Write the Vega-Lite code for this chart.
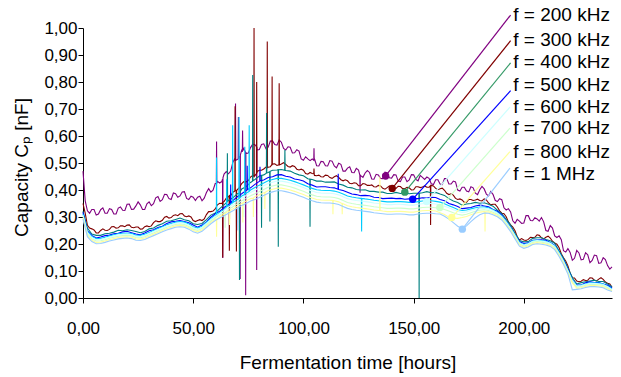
{
 "$schema": "https://vega.github.io/schema/vega-lite/v6.json",
 "width": 529, "height": 270,
 "autosize": "none",
 "padding": {"left": 83, "top": 28, "right": 9, "bottom": 79},
 "background": "white",
 "config": {"view": {"stroke": null}, "font": "Liberation Sans"},
 "resolve": {"scale": {"color": "independent"}},
 "layer": [
  {
   "data": {"values": [
{"t":0,"p":0.47,"r":0.35,"g":0.321,"b":0.317,"c":0.311,"w":0.307,"n":0.302,"y":0.297,"l":0.292},
{"t":1,"p":0.36,"r":0.314},
{"t":2,"p":0.323,"r":0.269,"g":0.259,"b":0.249,"c":0.246,"w":0.242,"n":0.237,"y":0.232,"l":0.227},
{"t":4,"p":0.328,"r":0.256,"g":0.237,"b":0.232,"c":0.228,"w":0.224,"n":0.219,"y":0.214,"l":0.209},
{"t":6,"p":0.307,"r":0.241,"g":0.232,"b":0.222,"c":0.22,"w":0.216,"n":0.211,"y":0.206,"l":0.201},
{"t":8,"p":0.327,"r":0.25,"g":0.232,"b":0.226,"c":0.221,"w":0.217,"n":0.212,"y":0.207,"l":0.202},
{"t":10,"p":0.314,"r":0.251,"g":0.238,"b":0.231,"c":0.225,"w":0.221,"n":0.216,"y":0.211,"l":0.206},
{"t":12,"p":0.331,"r":0.254,"g":0.24,"b":0.233,"c":0.23,"w":0.226,"n":0.221,"y":0.216,"l":0.211},
{"t":14,"p":0.311,"r":0.265,"g":0.244,"b":0.238,"c":0.234,"w":0.23,"n":0.225,"y":0.22,"l":0.215},
{"t":16,"p":0.333,"r":0.26,"g":0.251,"b":0.24,"c":0.238,"w":0.234,"n":0.229,"y":0.224,"l":0.219},
{"t":18,"p":0.325,"r":0.267,"g":0.249,"b":0.245,"c":0.24,"w":0.236,"n":0.231,"y":0.226,"l":0.221},
{"t":20,"p":0.347,"r":0.27,"g":0.253,"b":0.247,"c":0.241,"w":0.237,"n":0.232,"y":0.227,"l":0.222},
{"t":22,"p":0.328,"r":0.262,"g":0.25,"b":0.242,"c":0.239,"w":0.235,"n":0.23,"y":0.225,"l":0.22},
{"t":24,"p":0.341,"r":0.263,"g":0.246,"b":0.237,"c":0.233,"w":0.229,"n":0.224,"y":0.219,"l":0.214},
{"t":26,"p":0.345,"r":0.255,"g":0.242,"b":0.234,"c":0.232,"w":0.228,"n":0.223,"y":0.218,"l":0.213},
{"t":28,"p":0.328,"r":0.264,"g":0.246,"b":0.241,"c":0.236,"w":0.232,"n":0.227,"y":0.222,"l":0.217},
{"t":30,"p":0.356,"r":0.264,"g":0.256,"b":0.249,"c":0.243,"w":0.239,"n":0.234,"y":0.229,"l":0.224},
{"t":32,"p":0.349,"r":0.279,"g":0.259,"b":0.253,"c":0.25,"w":0.246,"n":0.241,"y":0.236,"l":0.231},
{"t":34,"p":0.376,"r":0.283,"g":0.269,"b":0.261,"c":0.257,"w":0.253,"n":0.248,"y":0.243,"l":0.238},
{"t":36,"p":0.364,"r":0.288,"g":0.275,"b":0.266,"c":0.264,"w":0.26,"n":0.255,"y":0.25,"l":0.245},
{"t":38,"p":0.383,"r":0.302,"g":0.284,"b":0.276,"c":0.271,"w":0.267,"n":0.262,"y":0.257,"l":0.252},
{"t":40,"p":0.365,"r":0.298,"g":0.286,"b":0.282,"c":0.276,"w":0.272,"n":0.267,"y":0.262,"l":0.257},
{"t":42,"p":0.386,"r":0.308,"g":0.291,"b":0.284,"c":0.281,"w":0.277,"n":0.272,"y":0.267,"l":0.262},
{"t":44,"p":0.378,"r":0.312,"g":0.296,"b":0.287,"c":0.283,"w":0.279,"n":0.274,"y":0.269,"l":0.264},
{"t":46,"p":0.394,"r":0.304,"g":0.29,"b":0.283,"c":0.281,"w":0.277,"n":0.272,"y":0.267,"l":0.262},
{"t":48,"p":0.365,"r":0.304,"g":0.286,"b":0.279,"c":0.274,"w":0.27,"n":0.265,"y":0.26,"l":0.255},
{"t":50,"p":0.373,"r":0.287,"g":0.275,"b":0.27,"c":0.264,"w":0.26,"n":0.255,"y":0.25,"l":0.245},
{"t":52,"p":0.373,"r":0.287,"g":0.272,"b":0.262,"c":0.259,"w":0.255,"n":0.25,"y":0.245,"l":0.24},
{"t":54,"p":0.36,"r":0.287,"g":0.276,"b":0.27,"c":0.266,"w":0.262,"n":0.257,"y":0.252,"l":0.247},
{"t":56,"p":0.391,"r":0.309,"g":0.29,"b":0.282,"c":0.28,"w":0.276,"n":0.271,"y":0.266,"l":0.261},
{"t":58,"p":0.392,"r":0.32,"g":0.307,"b":0.299,"c":0.294,"w":0.29,"n":0.285,"y":0.28,"l":0.275},
{"t":60,"p":0.424,"r":0.33,"g":0.315,"b":0.312,"c":0.306,"w":0.302,"n":0.297,"y":0.292,"l":0.287},
{"t":62,"p":0.426,"r":0.351,"g":0.331,"b":0.321,"c":0.317,"w":0.313,"n":0.307,"y":0.301,"l":0.296},
{"t":64,"p":0.459,"r":0.357,"g":0.345,"b":0.335,"c":0.329,"w":0.324,"n":0.317,"y":0.311,"l":0.305},
{"t":66,"p":0.46,"r":0.376,"g":0.361,"b":0.346,"c":0.342,"w":0.336,"n":0.328,"y":0.321,"l":0.314},
{"t":68,"p":0.503,"r":0.392,"g":0.371,"b":0.361,"c":0.353,"w":0.346,"n":0.338,"y":0.33,"l":0.323},
{"t":70,"p":0.513,"r":0.401,"g":0.386,"b":0.375,"c":0.365,"w":0.358,"n":0.349,"y":0.34,"l":0.333},
{"t":72,"p":0.547,"r":0.424,"g":0.404,"b":0.386,"c":0.378,"w":0.371,"n":0.36,"y":0.351,"l":0.343},
{"t":74,"p":0.535,"r":0.43,"g":0.412,"b":0.398,"c":0.388,"w":0.38,"n":0.369,"y":0.359,"l":0.35},
{"t":76,"p":0.557,"r":0.448,"g":0.428,"b":0.408,"c":0.4,"w":0.391,"n":0.379,"y":0.368,"l":0.359},
{"t":78,"p":0.568,"r":0.453,"g":0.439,"b":0.421,"c":0.409,"w":0.399,"n":0.386,"y":0.375,"l":0.365},
{"t":80,"p":0.55,"r":0.473,"g":0.452,"b":0.432,"c":0.418,"w":0.408,"n":0.394,"y":0.382,"l":0.372},
{"t":82,"p":0.571,"r":0.478,"g":0.456,"b":0.437,"c":0.426,"w":0.416,"n":0.402,"y":0.39,"l":0.38},
{"t":84,"p":0.559,"r":0.484,"g":0.465,"b":0.446,"c":0.434,"w":0.424,"n":0.41,"y":0.398,"l":0.388},
{"t":86,"p":0.582,"r":0.496,"g":0.473,"b":0.449,"c":0.439,"w":0.429,"n":0.415,"y":0.403,"l":0.393},
{"t":88,"p":0.566,"r":0.491,"g":0.474,"b":0.456,"c":0.443,"w":0.433,"n":0.419,"y":0.407,"l":0.397},
{"t":90,"p":0.577,"r":0.496,"g":0.476,"b":0.457,"c":0.443,"w":0.433,"n":0.419,"y":0.407,"l":0.397},
{"t":92,"p":0.548,"r":0.495,"g":0.472,"b":0.451,"c":0.44,"w":0.43,"n":0.416,"y":0.404,"l":0.394},
{"t":94,"p":0.558,"r":0.485,"g":0.47,"b":0.448,"c":0.436,"w":0.426,"n":0.412,"y":0.4,"l":0.39},
{"t":96,"p":0.538,"r":0.487,"g":0.462,"b":0.441,"c":0.431,"w":0.421,"n":0.407,"y":0.395,"l":0.385},
{"t":98,"p":0.544,"r":0.474,"g":0.456,"b":0.438,"c":0.425,"w":0.415,"n":0.401,"y":0.389,"l":0.379},
{"t":100,"p":0.51,"r":0.473,"g":0.453,"b":0.433,"c":0.419,"w":0.409,"n":0.395,"y":0.383,"l":0.373},
{"t":102,"p":0.515,"r":0.459,"g":0.442,"b":0.423,"c":0.412,"w":0.402,"n":0.388,"y":0.376,"l":0.366},
{"t":104,"p":0.515,"r":0.461,"g":0.439,"b":0.418,"c":0.406,"w":0.396,"n":0.382,"y":0.37,"l":0.36},
{"t":106,"p":0.49,"r":0.453,"g":0.433,"b":0.411,"c":0.401,"w":0.391,"n":0.377,"y":0.365,"l":0.355},
{"t":108,"p":0.506,"r":0.449,"g":0.433,"b":0.412,"c":0.399,"w":0.389,"n":0.375,"y":0.363,"l":0.353},
{"t":110,"p":0.49,"r":0.455,"g":0.429,"b":0.412,"c":0.398,"w":0.388,"n":0.374,"y":0.362,"l":0.352},
{"t":112,"p":0.509,"r":0.446,"g":0.429,"b":0.409,"c":0.398,"w":0.388,"n":0.374,"y":0.362,"l":0.352},
{"t":114,"p":0.489,"r":0.449,"g":0.43,"b":0.408,"c":0.396,"w":0.386,"n":0.372,"y":0.36,"l":0.35},
{"t":116,"p":0.499,"r":0.447,"g":0.422,"b":0.402,"c":0.392,"w":0.382,"n":0.368,"y":0.356,"l":0.346},
{"t":118,"p":0.47,"r":0.434,"g":0.418,"b":0.398,"c":0.385,"w":0.375,"n":0.361,"y":0.349,"l":0.339},
{"t":120,"p":0.481,"r":0.434,"g":0.41,"b":0.392,"c":0.378,"w":0.368,"n":0.354,"y":0.342,"l":0.332},
{"t":122,"p":0.465,"r":0.423,"g":0.408,"b":0.385,"c":0.374,"w":0.364,"n":0.35,"y":0.338,"l":0.328},
{"t":124,"p":0.48,"r":0.425,"g":0.402,"b":0.383,"c":0.371,"w":0.361,"n":0.347,"y":0.335,"l":0.325},
{"t":126,"p":0.453,"r":0.416,"g":0.4,"b":0.379,"c":0.369,"w":0.359,"n":0.345,"y":0.333,"l":0.323},
{"t":128,"p":0.463,"r":0.422,"g":0.401,"b":0.38,"c":0.367,"w":0.357,"n":0.343,"y":0.331,"l":0.321},
{"t":130,"p":0.465,"r":0.417,"g":0.395,"b":0.379,"c":0.365,"w":0.355,"n":0.341,"y":0.329,"l":0.319},
{"t":132,"p":0.44,"r":0.412,"g":0.395,"b":0.373,"c":0.362,"w":0.352,"n":0.338,"y":0.326,"l":0.316},
{"t":134,"p":0.456,"r":0.417,"g":0.392,"b":0.372,"c":0.36,"w":0.35,"n":0.336,"y":0.324,"l":0.314},
{"t":136,"p":0.442,"r":0.406,"g":0.392,"b":0.368,"c":0.358,"w":0.348,"n":0.334,"y":0.322,"l":0.312},
{"t":138,"p":0.464,"r":0.409,"g":0.387,"b":0.369,"c":0.356,"w":0.346,"n":0.332,"y":0.32,"l":0.31},
{"t":140,"p":0.444,"r":0.411,"g":0.387,"b":0.37,"c":0.356,"w":0.346,"n":0.332,"y":0.32,"l":0.31},
{"t":142,"p":0.456,"r":0.406,"g":0.391,"b":0.368,"c":0.357,"w":0.347,"n":0.333,"y":0.321,"l":0.311},
{"t":144,"p":0.431,"r":0.413,"g":0.387,"b":0.369,"c":0.357,"w":0.347,"n":0.333,"y":0.321,"l":0.311},
{"t":146,"p":0.448,"r":0.405,"g":0.389,"b":0.366,"c":0.356,"w":0.346,"n":0.332,"y":0.32,"l":0.31},
{"t":148,"p":0.437,"r":0.408,"g":0.386,"b":0.367,"c":0.354,"w":0.344,"n":0.33,"y":0.318,"l":0.308},
{"t":150,"p":0.456,"r":0.401,"g":0.388,"b":0.368,"c":0.354,"w":0.344,"n":0.33,"y":0.318,"l":0.308},
{"t":152,"p":0.434,"r":0.412,"g":0.388,"b":0.368,"c":0.357,"w":0.347,"n":0.333,"y":0.321,"l":0.311},
{"t":154,"p":0.447,"r":0.411,"g":0.39,"b":0.371,"c":0.359,"w":0.349,"n":0.335,"y":0.323,"l":0.313},
{"t":156,"p":0.448,"r":0.41,"g":0.394,"b":0.37,"c":0.36,"w":0.35,"n":0.336,"y":0.324,"l":0.314},
{"t":158,"p":0.423,"r":0.417,"g":0.39,"b":0.373,"c":0.36,"w":0.35,"n":0.336,"y":0.324,"l":0.314},
{"t":160,"p":0.438,"r":0.406,"g":0.391,"b":0.372,"c":0.358,"w":0.348,"n":0.334,"y":0.322,"l":0.312},
{"t":162,"p":0.422,"r":0.405,"g":0.385,"b":0.365,"c":0.355,"w":0.345,"n":0.332,"y":0.316,"l":0.311},
{"t":164,"p":0.442,"r":0.399,"g":0.38,"b":0.36,"c":0.349,"w":0.34,"n":0.328,"y":0.309,"l":0.303},
{"t":166,"p":0.422,"r":0.383,"g":0.368,"b":0.35,"c":0.342,"w":0.334,"n":0.322,"y":0.299,"l":0.292},
{"t":168,"p":0.433,"r":0.381,"g":0.359,"b":0.345,"c":0.335,"w":0.327,"n":0.316,"y":0.296,"l":0.279},
{"t":170,"p":0.4,"r":0.365,"g":0.354,"b":0.339,"c":0.328,"w":0.321,"n":0.31,"y":0.295,"l":0.266},
{"t":172,"p":0.41,"r":0.363,"g":0.344,"b":0.331,"c":0.324,"w":0.317,"n":0.307,"y":0.298,"l":0.257},
{"t":174,"p":0.396,"r":0.355,"g":0.348,"b":0.333,"c":0.326,"w":0.319,"n":0.31,"y":0.302,"l":0.267},
{"t":176,"p":0.412,"r":0.365,"g":0.35,"b":0.335,"c":0.33,"w":0.325,"n":0.316,"y":0.308,"l":0.283},
{"t":178,"p":0.388,"r":0.363,"g":0.354,"b":0.341,"c":0.334,"w":0.329,"n":0.321,"y":0.314,"l":0.297},
{"t":180,"p":0.401,"r":0.361,"g":0.351,"b":0.344,"c":0.337,"w":0.332,"n":0.325,"y":0.318,"l":0.308},
{"t":182,"p":0.404,"r":0.367,"g":0.353,"b":0.341,"c":0.337,"w":0.333,"n":0.327,"y":0.32,"l":0.315},
{"t":184,"p":0.378,"r":0.352,"g":0.347,"b":0.338,"c":0.334,"w":0.33,"n":0.324,"y":0.319,"l":0.314},
{"t":186,"p":0.384,"r":0.347,"g":0.34,"b":0.328,"c":0.327,"w":0.324,"n":0.318,"y":0.313,"l":0.308},
{"t":188,"p":0.357,"r":0.337,"g":0.325,"b":0.321,"c":0.317,"w":0.315,"n":0.31,"y":0.306,"l":0.301},
{"t":190,"p":0.364,"r":0.314,"g":0.312,"b":0.307,"c":0.303,"w":0.301,"n":0.297,"y":0.293,"l":0.289},
{"t":192,"p":0.326,"r":0.301,"g":0.291,"b":0.284,"c":0.283,"w":0.281,"n":0.277,"y":0.273,"l":0.269},
{"t":194,"p":0.319,"r":0.271,"g":0.27,"b":0.262,"c":0.26,"w":0.258,"n":0.254,"y":0.25,"l":0.246},
{"t":196,"p":0.277,"r":0.249,"g":0.24,"b":0.233,"c":0.233,"w":0.231,"n":0.227,"y":0.223,"l":0.219},
{"t":198,"p":0.285,"r":0.215,"g":0.213,"b":0.209,"c":0.206,"w":0.204,"n":0.2,"y":0.196,"l":0.192},
{"t":200,"p":0.278,"r":0.215,"g":0.208,"b":0.202,"c":0.198,"w":0.196,"n":0.192,"y":0.188,"l":0.184},
{"t":202,"p":0.305,"r":0.217,"g":0.209,"b":0.204,"c":0.203,"w":0.201,"n":0.197,"y":0.193,"l":0.189},
{"t":204,"p":0.286,"r":0.224,"g":0.221,"b":0.214,"c":0.212,"w":0.21,"n":0.206,"y":0.202,"l":0.198},
{"t":206,"p":0.293,"r":0.234,"g":0.223,"b":0.215,"c":0.215,"w":0.213,"n":0.209,"y":0.205,"l":0.201},
{"t":208,"p":0.298,"r":0.223,"g":0.223,"b":0.216,"c":0.213,"w":0.211,"n":0.207,"y":0.203,"l":0.199},
{"t":210,"p":0.25,"r":0.225,"g":0.217,"b":0.214,"c":0.21,"w":0.208,"n":0.204,"y":0.2,"l":0.196},
{"t":212,"p":0.268,"r":0.222,"g":0.212,"b":0.206,"c":0.205,"w":0.203,"n":0.199,"y":0.195,"l":0.191},
{"t":214,"p":0.23,"r":0.204,"g":0.203,"b":0.195,"c":0.193,"w":0.191,"n":0.187,"y":0.183,"l":0.179},
{"t":216,"p":0.23,"r":0.186,"g":0.174,"b":0.168,"c":0.168,"w":0.166,"n":0.162,"y":0.158,"l":0.154},
{"t":218,"p":0.175,"r":0.149,"g":0.147,"b":0.141,"c":0.138,"w":0.136,"n":0.132,"y":0.128,"l":0.124},
{"t":220,"p":0.183,"r":0.119,"g":0.111,"b":0.107,"c":0.103,"w":0.101,"n":0.097,"y":0.093,"l":0.089},
{"t":222,"p":0.14,"r":0.075,"g":0.076,"b":0.067,"c":0.066,"w":0.064,"n":0.06,"y":0.056,"l":0.03},
{"t":224,"p":0.176,"r":0.063,"g":0.052,"b":0.048,"c":0.046,"w":0.044,"n":0.04,"y":0.036,"l":0.032},
{"t":226,"p":0.141,"r":0.062,"g":0.057,"b":0.048,"c":0.048,"w":0.046,"n":0.042,"y":0.038,"l":0.034},
{"t":228,"p":0.168,"r":0.065,"g":0.06,"b":0.056,"c":0.053,"w":0.051,"n":0.047,"y":0.043,"l":0.039},
{"t":230,"p":0.131,"r":0.075,"g":0.063,"b":0.06,"c":0.056,"w":0.054,"n":0.05,"y":0.046,"l":0.042},
{"t":232,"p":0.159,"r":0.066,"g":0.066,"b":0.057,"c":0.056,"w":0.054,"n":0.05,"y":0.046,"l":0.042},
{"t":234,"p":0.128,"r":0.07,"g":0.061,"b":0.057,"c":0.055,"w":0.053,"n":0.049,"y":0.045,"l":0.041},
{"t":236,"p":0.149,"r":0.069,"g":0.061,"b":0.052,"c":0.052,"w":0.05,"n":0.046,"y":0.042,"l":0.038},
{"t":238,"p":0.12,"r":0.055,"g":0.052,"b":0.047,"c":0.044,"w":0.042,"n":0.038,"y":0.034,"l":0.03},
{"t":240,"p":0.115,"r":0.04,"g":0.042,"b":0.037,"c":0.034,"w":0.032,"n":0.028,"y":0.026,"l":0.024},
{"t":3,"p":0.314,"r":0.259},{"t":5,"p":0.328,"r":0.252},{"t":7,"p":0.311,"r":0.241},{"t":9,"p":0.334,"r":0.256},
{"t":11,"p":0.314,"r":0.25},{"t":13,"p":0.328,"r":0.264},{"t":15,"p":0.311,"r":0.259},{"t":17,"p":0.337,"r":0.267},
{"t":19,"p":0.324,"r":0.264},{"t":21,"p":0.348,"r":0.271},{"t":23,"p":0.329,"r":0.26},{"t":25,"p":0.356,"r":0.263},
{"t":27,"p":0.328,"r":0.256},{"t":29,"p":0.349,"r":0.267},{"t":31,"p":0.342,"r":0.267},{"t":33,"p":0.371,"r":0.286},
{"t":35,"p":0.358,"r":0.283},{"t":37,"p":0.384,"r":0.299},{"t":39,"p":0.368,"r":0.296},{"t":41,"p":0.389,"r":0.306},
{"t":43,"p":0.373,"r":0.305},{"t":45,"p":0.393,"r":0.313},{"t":47,"p":0.369,"r":0.301},{"t":49,"p":0.377,"r":0.3},
{"t":51,"p":0.361,"r":0.283},{"t":53,"p":0.377,"r":0.29},{"t":55,"p":0.37,"r":0.293},{"t":57,"p":0.405,"r":0.32},
{"t":59,"p":0.399,"r":0.322},{"t":61,"p":0.432,"r":0.345},{"t":63,"p":0.432,"r":0.35},{"t":65,"p":0.468,"r":0.37},
{"t":67,"p":0.47,"r":0.379},{"t":69,"p":0.518},{"t":71,"p":0.524,"r":0.41},{"t":73,"p":0.554,"r":0.431},
{"t":75,"p":0.537,"r":0.435},{"t":77,"p":0.57,"r":0.454},{"t":79,"p":0.548,"r":0.468},{"t":81,"p":0.569,"r":0.473},
{"t":83,"p":0.553,"r":0.485},{"t":85,"p":0.581,"r":0.486},{"t":87,"p":0.568,"r":0.497},{"t":89,"p":0.585},
{"t":91,"p":0.554,"r":0.501},{"t":93,"p":0.56,"r":0.487},{"t":95,"p":0.537,"r":0.49},{"t":97,"p":0.549,"r":0.477},
{"t":99,"p":0.515,"r":0.477},{"t":101,"p":0.523,"r":0.461},{"t":103,"p":0.509,"r":0.465},{"t":105,"p":0.516,"r":0.454},
{"t":107,"p":0.489,"r":0.455},{"t":109,"p":0.505,"r":0.448},{"t":111,"p":0.489,"r":0.454},{"t":113,"p":0.507,"r":0.443},
{"t":115,"p":0.482,"r":0.453},{"t":117,"p":0.495,"r":0.438},{"t":119,"p":0.47,"r":0.438},{"t":121,"p":0.486,"r":0.425},
{"t":123,"p":0.464,"r":0.427},{"t":125,"p":0.474,"r":0.416},{"t":127,"p":0.447,"r":0.424},{"t":129,"p":0.472,"r":0.417},
{"t":131,"p":0.441,"r":0.419},{"t":133,"p":0.458,"r":0.411},{"t":135,"p":0.443,"r":0.415},{"t":137,"p":0.466,"r":0.403},
{"t":139,"p":0.445,"r":0.415},{"t":141,"p":0.457,"r":0.406},{"t":143,"p":0.433,"r":0.414},{"t":145,"p":0.448,"r":0.405},
{"t":147,"p":0.431,"r":0.41},{"t":149,"p":0.457,"r":0.4},{"t":151,"p":0.439,"r":0.412},{"t":153,"p":0.454,"r":0.409},
{"t":155,"p":0.439,"r":0.415},{"t":157,"p":0.443,"r":0.41},{"t":159,"p":0.42,"r":0.415},{"t":161,"p":0.438,"r":0.401},
{"t":163,"p":0.42,"r":0.407},{"t":165,"p":0.442,"r":0.388},{"t":167,"p":0.422,"r":0.386},{"t":169,"p":0.43,"r":0.369},
{"t":171,"p":0.396,"r":0.367},{"t":173,"p":0.41,"r":0.354},{"t":175,"p":0.393,"r":0.365},{"t":177,"p":0.408,"r":0.361},
{"t":179,"p":0.383,"r":0.366},{"t":181,"p":0.413,"r":0.36},{"t":183,"p":0.385,"r":0.363},{"t":185,"p":0.394,"r":0.345},
{"t":187,"p":0.362,"r":0.347},{"t":189,"p":0.368,"r":0.323},{"t":191,"p":0.334,"r":0.312},{"t":193,"p":0.331,"r":0.282},
{"t":195,"p":0.286,"r":0.263},{"t":197,"p":0.291,"r":0.227},{"t":199,"p":0.276,"r":0.22},{"t":201,"p":0.305,"r":0.213},
{"t":203,"p":0.287,"r":0.225},{"t":205,"p":0.297,"r":0.225},{"t":207,"p":0.285,"r":0.232},{"t":209,"p":0.282,"r":0.219},
{"t":211,"p":0.247,"r":0.229},{"t":213,"p":0.259,"r":0.21},{"t":215,"p":0.224,"r":0.199},{"t":217,"p":0.216,"r":0.164},
{"t":219,"p":0.17,"r":0.137},{"t":221,"p":0.169,"r":0.092},{"t":223,"p":0.147,"r":0.074},{"t":225,"p":0.167,"r":0.06},
{"t":227,"p":0.143,"r":0.068},{"t":229,"p":0.16,"r":0.066},{"t":231,"p":0.139,"r":0.074},{"t":233,"p":0.157,"r":0.063},
{"t":235,"p":0.13,"r":0.075},{"t":237,"p":0.142,"r":0.059},{"t":239,"p":0.107,"r":0.052},
{"t":60.5,"p":0.425,"c":0.307,"y":0.292},
{"t":60.6,"p":0.58,"c":0.52,"y":0.227},
{"t":60.7,"p":0.425,"c":0.307,"y":0.292},
{"t":63.3,"p":0.44,"r":0.355},
{"t":63.4,"p":0.148,"r":0.15},
{"t":63.5,"p":0.445,"r":0.356},
{"t":64.4,"n":0.316},
{"t":64.5,"n":0.26},
{"t":64.6,"n":0.318},
{"t":65.1,"c":0.337},
{"t":65.2,"c":0.44},
{"t":65.3,"c":0.339},
{"t":65.4,"g":0.356},
{"t":65.5,"g":0.536},
{"t":65.6,"g":0.358},
{"t":66.3,"r":0.378},
{"t":66.4,"r":0.175,"y":0.322},
{"t":66.5,"r":0.38,"y":0.27},
{"t":66.6,"y":0.323},
{"t":66.9,"b":0.35},
{"t":67.0,"b":0.42},
{"t":67.1,"b":0.352},
{"t":67.8,"c":0.352},
{"t":67.9,"c":0.64},
{"t":68.0,"c":0.354},
{"t":68.9,"r":0.396},
{"t":69.0,"r":0.71},
{"t":69.1,"r":0.397,"p":0.508},
{"t":69.2,"p":0.72},
{"t":69.3,"p":0.51},
{"t":69.5,"r":0.398},
{"t":69.6,"r":0.172},
{"t":69.7,"r":0.399},
{"t":70.1,"l":0.333},
{"t":70.2,"l":0.25},
{"t":70.3,"l":0.334},
{"t":70.4,"p":0.515},
{"t":70.5,"p":0.67},
{"t":70.6,"p":0.517},
{"t":70.7,"c":0.366},
{"t":70.8,"c":0.67},
{"t":70.9,"c":0.367,"g":0.388},
{"t":71.0,"g":0.067},
{"t":71.1,"g":0.39},
{"t":71.2,"p":0.525},
{"t":71.3,"p":0.07},
{"t":71.4,"p":0.53},
{"t":72.3,"p":0.545},
{"t":72.4,"p":0.62,"y":0.352},
{"t":72.5,"p":0.545,"y":0.28},
{"t":72.6,"y":0.353},
{"t":72.9,"w":0.373},
{"t":73.0,"w":0.3},
{"t":73.1,"w":0.374},
{"t":73.3,"c":0.383},
{"t":73.4,"c":0.56},
{"t":73.5,"c":0.384},
{"t":73.7,"p":0.54},
{"t":73.8,"p":0.01},
{"t":73.9,"p":0.54},
{"t":74.4,"b":0.4},
{"t":74.5,"b":0.49},
{"t":74.6,"b":0.401},
{"t":75.3,"c":0.395},
{"t":75.4,"c":0.64},
{"t":75.5,"c":0.396},
{"t":76.9,"g":0.433},
{"t":77.0,"g":0.826},
{"t":77.1,"g":0.434},
{"t":77.2,"y":0.37},
{"t":77.3,"y":0.3},
{"t":77.4,"y":0.371},
{"t":77.5,"r":0.45},
{"t":77.6,"r":1.0},
{"t":77.7,"r":0.45},
{"t":78.7,"r":0.461,"p":0.56},
{"t":78.8,"r":0.8,"p":0.104},
{"t":78.9,"r":0.462,"p":0.56},
{"t":80.2,"b":0.433},
{"t":80.3,"b":0.486},
{"t":80.4,"b":0.434},
{"t":80.9,"g":0.454},
{"t":81.0,"g":0.26},
{"t":81.1,"g":0.454},
{"t":82.4,"y":0.391},
{"t":82.5,"y":0.33},
{"t":82.6,"y":0.391},
{"t":83.2,"g":0.462},
{"t":83.3,"g":0.685},
{"t":83.4,"g":0.463},
{"t":83.5,"r":0.483},
{"t":83.6,"r":0.95},
{"t":83.7,"r":0.483},
{"t":84.7,"g":0.468},
{"t":84.8,"g":0.283},
{"t":84.9,"g":0.469},
{"t":85.7,"r":0.495},
{"t":85.8,"r":0.82},
{"t":85.9,"r":0.495},
{"t":88.5,"g":0.475},
{"t":88.6,"g":0.19},
{"t":88.7,"g":0.475},
{"t":88.9,"r":0.493},
{"t":89.0,"r":0.795},
{"t":89.1,"r":0.493},
{"t":91.5,"g":0.473},
{"t":91.6,"g":0.548},
{"t":91.7,"g":0.473},
{"t":102.9,"g":0.44},
{"t":103.0,"g":0.264},
{"t":103.1,"g":0.44},
{"t":104.7,"p":0.51,"r":0.46},
{"t":104.8,"p":0.555,"r":0.48},
{"t":104.9,"p":0.51,"r":0.46},
{"t":113.3,"y":0.361},
{"t":113.4,"y":0.31},
{"t":113.5,"y":0.361},
{"t":115.7,"b":0.403},
{"t":115.8,"b":0.46},
{"t":115.9,"b":0.403},
{"t":117.5,"y":0.35},
{"t":117.6,"y":0.31},
{"t":117.7,"y":0.35},
{"t":125.6,"p":0.455},
{"t":125.7,"p":0.39},
{"t":125.8,"p":0.455},
{"t":126.3,"c":0.369},
{"t":126.4,"c":0.246},
{"t":126.5,"c":0.369},
{"t":134.6,"y":0.324},
{"t":134.7,"y":0.45},
{"t":134.8,"y":0.324},
{"t":152.4,"g":0.388},
{"t":152.5,"g":0.0},
{"t":152.6,"g":0.388},
{"t":157.6,"r":0.416},
{"t":157.7,"r":0.27},
{"t":157.8,"r":0.416},
{"t":182.3,"y":0.32},
{"t":182.4,"y":0.246},
{"t":182.5,"y":0.32}
   ]},
   "transform": [
    {"fold": ["p","r","g","b","c","w","n","y","l"], "as": ["s","v"]},
    {"filter": "isValid(datum.v)"}
   ],
   "mark": {"type": "line", "strokeWidth": 1.1},
   "encoding": {
    "x": {"field": "t", "type": "quantitative",
      "scale": {"domain": [0,240], "nice": false, "zero": false},
      "axis": {"title": "Fermentation time [hours]", "values": [0,50,100,150,200],
        "labelExpr": "replace(format(datum.value,'.2f'),'.',',')",
        "grid": false, "domainColor": "#000000", "tickColor": "#000000", "tickSize": 5,
        "labelFontSize": 17, "labelColor": "#000000", "labelBaseline": "alphabetic", "labelPadding": 30,
        "labelFlush": false, "labelOverlap": false, "labelBound": false,
        "titleFontSize": 19, "titleFontWeight": "normal", "titleColor": "#000000",
        "titleBaseline": "alphabetic", "titleX": 264.5, "titleY": 70, "titleAnchor": "middle", "titleAlign": "center"}},
    "y": {"field": "v", "type": "quantitative",
      "scale": {"domain": [0,1], "nice": false, "zero": false},
      "axis": {"title": "Capacity Cₚ [nF]", "values": [0,0.1,0.2,0.3,0.4,0.5,0.6,0.7,0.8,0.9,1],
        "labelExpr": "replace(format(datum.value,'.2f'),'.',',')",
        "grid": false, "domainColor": "#000000", "tickColor": "#000000", "tickSize": 5,
        "labelFontSize": 17, "labelColor": "#000000", "labelPadding": 1,
        "labelFlush": false, "labelOverlap": false, "labelBound": false,
        "titleFontSize": 19, "titleFontWeight": "normal", "titleColor": "#000000",
        "titleAngle": -90, "titleBaseline": "alphabetic", "titleX": -56, "titleY": 139, "titleAlign": "center"}},
    "color": {"field": "s", "type": "nominal", "legend": null,
      "scale": {"domain": ["p","r","g","b","c","w","n","y","l"],
        "range": ["#800080","#800000","#008080","#0000FF","#00CCFF","#CCFFFF","#CCFFCC","#FFFF99","#99CCFF"]}}
   }
  },
  {
   "data": {"name": "labels", "values": [
    {"lab":"f = 200 kHz","px":137.3,"py":0.452,"lx":194.0,"ly":1.048,"tx":195.2,"ty":1.048},
    {"lab":"f = 300 kHz","px":140.3,"py":0.406,"lx":194.0,"ly":0.953,"tx":195.2,"ty":0.956},
    {"lab":"f = 400 kHz","px":146.0,"py":0.392,"lx":194.0,"ly":0.871,"tx":195.2,"ty":0.874},
    {"lab":"f = 500 kHz","px":149.6,"py":0.366,"lx":194.0,"ly":0.768,"tx":195.2,"ty":0.789},
    {"lab":"f = 600 kHz","px":155.9,"py":0.357,"lx":193.7,"ly":0.707,"tx":195.2,"ty":0.707},
    {"lab":"f = 700 kHz","px":161.9,"py":0.335,"lx":193.7,"ly":0.629,"tx":195.2,"ty":0.63},
    {"lab":"f = 800 kHz","px":167.3,"py":0.298,"lx":193.7,"ly":0.542,"tx":195.2,"ty":0.541},
    {"lab":"f = 1 MHz","px":172.1,"py":0.255,"lx":193.7,"ly":0.481,"tx":195.2,"ty":0.459}
   ]},
   "layer": [
    {
     "mark": {"type": "rule", "strokeWidth": 1.2},
     "encoding": {
      "x": {"field": "px", "type": "quantitative",
        "axis": {"title": "Fermentation time [hours]", "values": [0,50,100,150,200],
        "labelExpr": "replace(format(datum.value,'.2f'),'.',',')",
        "grid": false, "domainColor": "#000000", "tickColor": "#000000", "tickSize": 5,
        "labelFontSize": 17, "labelColor": "#000000", "labelBaseline": "alphabetic", "labelPadding": 30,
        "labelFlush": false, "labelOverlap": false, "labelBound": false,
        "titleFontSize": 19, "titleFontWeight": "normal", "titleColor": "#000000",
        "titleBaseline": "alphabetic", "titleX": 264.5, "titleY": 70, "titleAnchor": "middle", "titleAlign": "center"}},
      "y": {"field": "py", "type": "quantitative",
        "axis": {"title": "Capacity Cₚ [nF]", "values": [0,0.1,0.2,0.3,0.4,0.5,0.6,0.7,0.8,0.9,1],
        "labelExpr": "replace(format(datum.value,'.2f'),'.',',')",
        "grid": false, "domainColor": "#000000", "tickColor": "#000000", "tickSize": 5,
        "labelFontSize": 17, "labelColor": "#000000", "labelPadding": 1,
        "labelFlush": false, "labelOverlap": false, "labelBound": false,
        "titleFontSize": 19, "titleFontWeight": "normal", "titleColor": "#000000",
        "titleAngle": -90, "titleBaseline": "alphabetic", "titleX": -56, "titleY": 139, "titleAlign": "center"}},
      "x2": {"field": "lx"},
      "y2": {"field": "ly"},
      "color": {"field": "lab", "type": "nominal", "legend": null,
        "scale": {"domain": ["f = 200 kHz","f = 300 kHz","f = 400 kHz","f = 500 kHz","f = 600 kHz","f = 700 kHz","f = 800 kHz","f = 1 MHz"],
          "range": ["#800080","#800000","#339966","#0000FF","#CCFFFF","#CCFFCC","#FFFF99","#99CCFF"]}}
     }
    },
    {
     "mark": {"type": "point", "shape": "circle", "filled": true, "size": 55, "opacity": 1},
     "encoding": {
      "x": {"field": "px", "type": "quantitative",
        "axis": {"title": "Fermentation time [hours]", "values": [0,50,100,150,200],
        "labelExpr": "replace(format(datum.value,'.2f'),'.',',')",
        "grid": false, "domainColor": "#000000", "tickColor": "#000000", "tickSize": 5,
        "labelFontSize": 17, "labelColor": "#000000", "labelBaseline": "alphabetic", "labelPadding": 30,
        "labelFlush": false, "labelOverlap": false, "labelBound": false,
        "titleFontSize": 19, "titleFontWeight": "normal", "titleColor": "#000000",
        "titleBaseline": "alphabetic", "titleX": 264.5, "titleY": 70, "titleAnchor": "middle", "titleAlign": "center"}},
      "y": {"field": "py", "type": "quantitative",
        "axis": {"title": "Capacity Cₚ [nF]", "values": [0,0.1,0.2,0.3,0.4,0.5,0.6,0.7,0.8,0.9,1],
        "labelExpr": "replace(format(datum.value,'.2f'),'.',',')",
        "grid": false, "domainColor": "#000000", "tickColor": "#000000", "tickSize": 5,
        "labelFontSize": 17, "labelColor": "#000000", "labelPadding": 1,
        "labelFlush": false, "labelOverlap": false, "labelBound": false,
        "titleFontSize": 19, "titleFontWeight": "normal", "titleColor": "#000000",
        "titleAngle": -90, "titleBaseline": "alphabetic", "titleX": -56, "titleY": 139, "titleAlign": "center"}},
      "color": {"field": "lab", "type": "nominal", "legend": null,
        "scale": {"domain": ["f = 200 kHz","f = 300 kHz","f = 400 kHz","f = 500 kHz","f = 600 kHz","f = 700 kHz","f = 800 kHz","f = 1 MHz"],
          "range": ["#800080","#800000","#339966","#0000FF","#CCFFFF","#CCFFCC","#FFFF99","#99CCFF"]}}
     }
    },
    {
     "mark": {"type": "text", "align": "left", "baseline": "middle", "fontSize": 19, "color": "#000000"},
     "encoding": {
      "x": {"field": "tx", "type": "quantitative",
        "axis": {"title": "Fermentation time [hours]", "values": [0,50,100,150,200],
        "labelExpr": "replace(format(datum.value,'.2f'),'.',',')",
        "grid": false, "domainColor": "#000000", "tickColor": "#000000", "tickSize": 5,
        "labelFontSize": 17, "labelColor": "#000000", "labelBaseline": "alphabetic", "labelPadding": 30,
        "labelFlush": false, "labelOverlap": false, "labelBound": false,
        "titleFontSize": 19, "titleFontWeight": "normal", "titleColor": "#000000",
        "titleBaseline": "alphabetic", "titleX": 264.5, "titleY": 70, "titleAnchor": "middle", "titleAlign": "center"}},
      "y": {"field": "ty", "type": "quantitative",
        "axis": {"title": "Capacity Cₚ [nF]", "values": [0,0.1,0.2,0.3,0.4,0.5,0.6,0.7,0.8,0.9,1],
        "labelExpr": "replace(format(datum.value,'.2f'),'.',',')",
        "grid": false, "domainColor": "#000000", "tickColor": "#000000", "tickSize": 5,
        "labelFontSize": 17, "labelColor": "#000000", "labelPadding": 1,
        "labelFlush": false, "labelOverlap": false, "labelBound": false,
        "titleFontSize": 19, "titleFontWeight": "normal", "titleColor": "#000000",
        "titleAngle": -90, "titleBaseline": "alphabetic", "titleX": -56, "titleY": 139, "titleAlign": "center"}},
      "text": {"field": "lab"}
     }
    }
   ]
  }
 ]
}
